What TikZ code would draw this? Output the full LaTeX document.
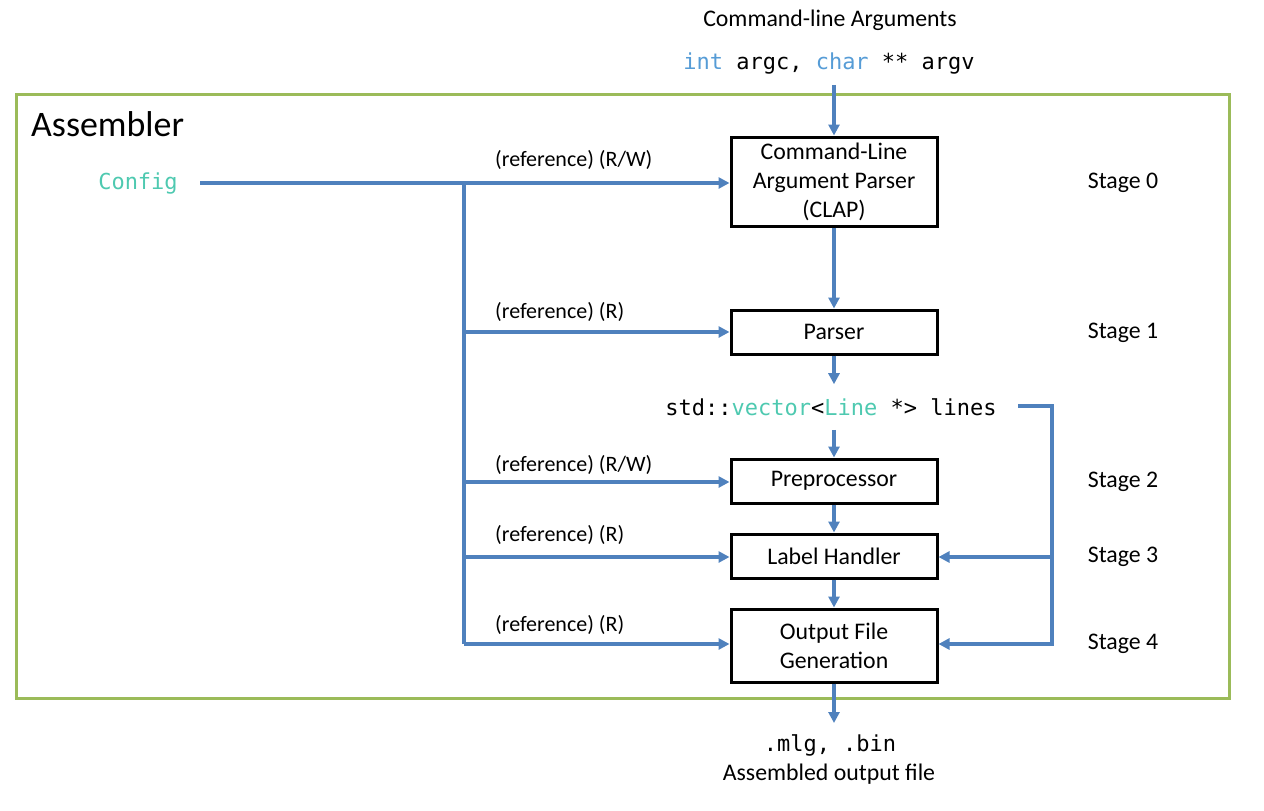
\documentclass[tikz,border=0pt]{standalone}
\usepackage{fontspec}
\setmainfont{Carlito}
\setmonofont{DejaVu Sans Mono}
\usetikzlibrary{arrows.meta}
\definecolor{ablue}{HTML}{4F81BD}
\definecolor{fgreen}{HTML}{9BBB59}
\definecolor{kwblue}{HTML}{569CD6}
\definecolor{tteal}{HTML}{4EC9B0}
\tikzset{
  conn/.style={draw=ablue, line width=3.2pt},
  arr/.style={conn, -{Triangle[length=11pt,width=11pt]}},
  stagebox/.style={draw=black, line width=3pt, minimum width=206pt, inner sep=0pt, align=center,
    font=\fontsize{23.8}{29}\selectfont},
  lbl/.style={font=\fontsize{22}{25}\selectfont, inner sep=0pt},
  stg/.style={font=\fontsize{23.8}{27}\selectfont, inner sep=0pt},
  code/.style={font=\fontsize{22}{26}\ttfamily, inner sep=0pt},
}
\begin{document}
\begin{tikzpicture}[x=1pt,y=-1pt]
\useasboundingbox (0,0) rectangle (1264,811);
% frame
\draw[fgreen, line width=3pt] (16,94) rectangle (1229,698);
\node[font=\fontsize{35.9}{40}\selectfont, anchor=west, inner sep=0pt] (asm) at (31,124) {Assembler};

% boxes
\node[stagebox, minimum height=89pt] (clap) at (834,181.5) {Command-Line\\Argument Parser\\(CLAP)};
\node[stagebox, minimum height=44pt] (parser) at (834,332) {Parser};
\node[stagebox, minimum height=44pt] (pre) at (834,481) {Preprocessor};
\node[stagebox, minimum height=44pt] (lh) at (834,556) {Label Handler};
\node[stagebox, minimum height=73pt] (out) at (834,645.5) {Output File\\Generation};

% top text
\node[stg] (cla) at (830,20) {Command-line Arguments};
\node[code, inner ysep=10pt] (args) at (829,64) {\textcolor{kwblue}{int} argc, \textcolor{kwblue}{char} ** argv};

% vector text
\node[code, inner ysep=14pt] (vec) at (831,407) {std::\textcolor{tteal}{vector}<\textcolor{tteal}{Line} *> lines};

% bottom text
\node[code, inner sep=0pt] (mlg) at (830,745) {.mlg, .bin};
\node[stg] (aof) at (829,774) {Assembled output file};
\coordinate (outtip) at (834,723);

% config
\node[code, font=\fontsize{22}{26}\ttfamily, text=tteal] (cfg) at (138,184) {Config};
\coordinate (c0) at (200,183);
\coordinate (j0) at (464,183);
\coordinate (j1) at (464,332);
\coordinate (j2) at (464,482);
\coordinate (j3) at (464,557);
\coordinate (j4) at (464,644);

% stage labels
\node[stg] (s0) at (1123,183) {Stage 0};
\node[stg] (s1) at (1123,333) {Stage 1};
\node[stg] (s2) at (1123,482) {Stage 2};
\node[stg] (s3) at (1123,557) {Stage 3};
\node[stg] (s4) at (1123,644) {Stage 4};

% reference labels
\node[lbl, anchor=west] (l0) at (495,160) {(reference) (R/W)};
\node[lbl, anchor=west] (l1) at (495,312) {(reference) (R)};
\node[lbl, anchor=west] (l2) at (495,465) {(reference) (R/W)};
\node[lbl, anchor=west] (l3) at (495,535) {(reference) (R)};
\node[lbl, anchor=west] (l4) at (495,625) {(reference) (R)};

% connectors
\draw[arr] (args.south -| clap.north) -- (clap.north);
\draw[arr] (clap.south) -- (parser.north);
\draw[arr] (parser.south) -- (vec.north -| parser.south);
\draw[arr] (vec.south -| pre.north) -- (pre.north);
\draw[arr] (pre.south) -- (lh.north);
\draw[arr] (lh.south) -- (out.north);
\draw[arr] (out.south) -- (outtip);

\draw[arr] (c0) -- (clap.west |- c0);
\draw[conn] (j0) -- (j4);
\draw[arr] (j1) -- (parser.west);
\draw[arr] (j2) -- (pre.west |- j2);
\draw[arr] (j3) -- (lh.west |- j3);
\draw[arr] (j4) -- (out.west |- j4);

\coordinate (r0) at (1018,406);
\coordinate (r1) at (1052,406);
\draw[arr] (r0) -- (r1) |- (lh.east |- j3);
\draw[arr] (r1) |- (out.east |- j4);
\end{tikzpicture}
\end{document}
